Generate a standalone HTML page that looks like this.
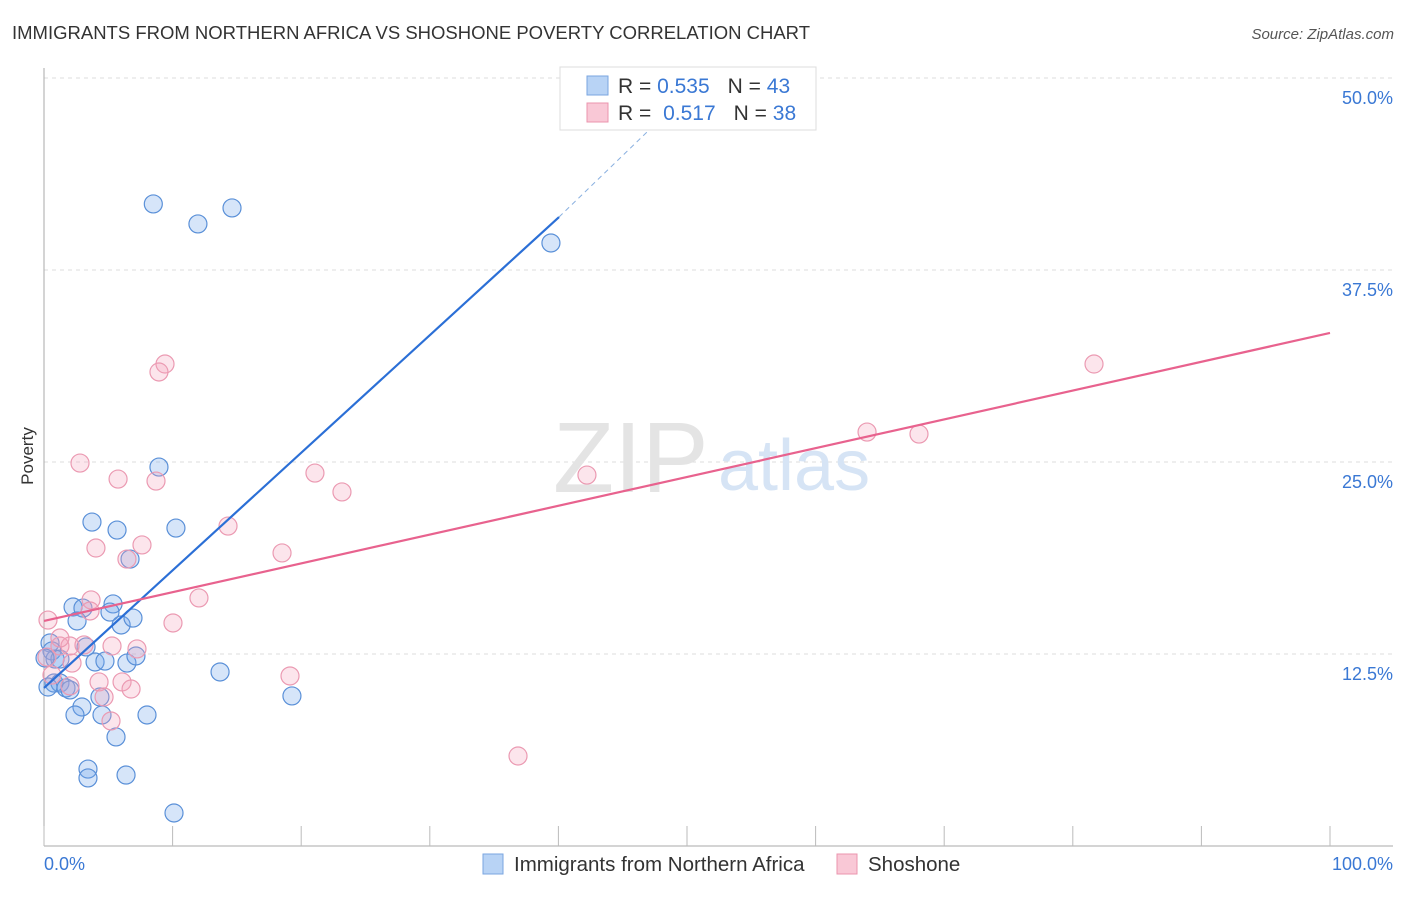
<!DOCTYPE html>
<html><head><meta charset="utf-8"><style>
body{margin:0;background:#fff;font-family:"Liberation Sans",sans-serif;}
svg text{font-family:"Liberation Sans",sans-serif;}
</style></head><body>
<svg width="1406" height="892" xmlns="http://www.w3.org/2000/svg" id="chart">
<text x="12" y="39" font-size="18.5" fill="#333">IMMIGRANTS FROM NORTHERN AFRICA VS SHOSHONE POVERTY CORRELATION CHART</text>
<text x="1394" y="39" font-size="15" fill="#555" font-style="italic" text-anchor="end">Source: ZipAtlas.com</text>
<g id="grid"></g>
<text x="553" y="492" font-size="100" fill="#e4e4e4" font-family="Liberation Serif">ZIP</text>
<text x="718" y="490" font-size="72" fill="#d6e4f5">atlas</text>
<line x1="44" y1="68" x2="44" y2="846" stroke="#aaa"/>
<line x1="44" y1="846" x2="1393" y2="846" stroke="#aaa"/>
<g id="ticks"></g>
<text transform="translate(33,456) rotate(-90)" font-size="17" fill="#333" text-anchor="middle">Poverty</text>
<text x="44" y="870" font-size="18" fill="#3a78d4">0.0%</text>
<text x="1393" y="870" font-size="18" fill="#3a78d4" text-anchor="end">100.0%</text>
<g id="pts"></g>
<g id="lines"></g>
<g>
<rect x="560" y="67" width="256" height="63" fill="#fff" stroke="#ddd"/>
<rect x="587" y="76" width="21" height="19" fill="#b8d3f5" stroke="#7aa6e0"/>
<rect x="587" y="103" width="21" height="19" fill="#f9c8d6" stroke="#eb94ae"/>
<text x="618" y="93" font-size="21" fill="#333">R = <tspan fill="#3a78d4">0.535</tspan><tspan dx="18">N = </tspan><tspan fill="#3a78d4">43</tspan></text>
<text x="618" y="120" font-size="21" fill="#333">R = <tspan fill="#3a78d4" dx="6">0.517</tspan><tspan dx="18">N = </tspan><tspan fill="#3a78d4">38</tspan></text>
</g>
<g>
<rect x="483" y="854" width="20" height="20" fill="#b8d3f5" stroke="#7aa6e0"/>
<text x="514" y="871" font-size="20.5" fill="#333">Immigrants from Northern Africa</text>
<rect x="837" y="854" width="20" height="20" fill="#f9c8d6" stroke="#eb94ae"/>
<text x="868" y="871" font-size="20.5" fill="#333">Shoshone</text>
</g>
</svg>
<script>
const yTicks=[12.5,25,37.5,50];
const yTickLabels=["12.5%","25.0%","37.5%","50.0%"];
const xTicks=[0,10,20,30,40,50,60,70,80,90,100];
const blueX=[8.5,11.97,14.62,39.42,8.94,3.73,5.68,10.26,6.69,2.26,3.03,5.37,5.13,2.57,6,6.92,3.27,0.47,0.62,0.86,1.24,3.97,4.74,6.45,7.15,13.69,0.78,1.24,1.71,2.02,4.35,19.28,2.95,2.41,4.51,8.01,5.6,3.42,3.42,6.38,10.11,0.08,0.31];
const blueY=[41.8,40.5,41.54,39.26,24.67,21.09,20.57,20.7,18.68,15.56,15.49,15.76,15.23,14.65,14.39,14.84,12.96,13.22,12.7,12.17,12.17,11.98,12.04,11.91,12.37,11.33,10.61,10.61,10.29,10.16,9.7,9.77,9.05,8.53,8.53,8.53,7.1,5.01,4.43,4.62,2.15,12.24,10.35];
const pinkX=[0.31,2.8,5.76,8.71,9.41,8.94,4.04,6.45,7.62,14.31,21.07,23.17,18.51,42.22,81.65,64.0,68.04,12.05,10.03,3.66,3.58,1.24,2.02,5.29,7.23,2.18,0.62,4.28,6.07,6.77,4.67,5.21,19.13,36.86,2.02,1.24,0.23,3.11];
const pinkY=[14.71,24.93,23.89,23.76,31.38,30.86,19.4,18.68,19.6,20.83,24.28,23.05,19.08,24.15,31.38,26.95,26.82,16.15,14.52,16.02,15.3,13.02,13.02,13.02,12.83,11.91,11.13,10.68,10.68,10.22,9.7,8.14,11.07,5.86,10.42,13.54,12.3,13.09];
const blueLine=[0,10.29,40.05,40.95,47.9,47.3];
const pinkLine=[0,14.65,100,33.4];
const NS='http://www.w3.org/2000/svg';
const X=v=>44+v*12.86, Y=v=>846-v*15.36;
function mk(tag,attrs,parent){const e=document.createElementNS(NS,tag);for(const k in attrs)e.setAttribute(k,attrs[k]);document.getElementById(parent).appendChild(e);return e;}
yTicks.forEach((t,i)=>{
 const l=mk('line',{x1:44,x2:1393,y1:Y(t),y2:Y(t),stroke:'#ddd','stroke-dasharray':'4,4'},'grid');
 
 
 const tx=mk('text',{x:1393,y:Y(t)+26,'font-size':18,fill:'#3a78d4','text-anchor':'end'},'grid');
 tx.textContent=yTickLabels[i];
 
 
});
xTicks.forEach(t=>{
 const l=mk('line',{x1:X(t),x2:X(t),y1:826,y2:846,stroke:'#bbb'},'ticks');
 
 
});
blueX.forEach((v,i)=>{
 const c=mk('circle',{cx:X(v),cy:Y(blueY[i]),r:9,fill:'rgba(120,170,235,0.3)',stroke:'#5a90d8','stroke-width':1.2},'pts');
 
 
});
pinkX.forEach((v,i)=>{
 const c=mk('circle',{cx:X(v),cy:Y(pinkY[i]),r:9,fill:'rgba(245,160,185,0.28)',stroke:'#eb9ab2','stroke-width':1.2},'pts');
 
 
});
const bl=mk('line',{x1:X(blueLine[0]),y1:Y(blueLine[1]),x2:X(blueLine[2]),y2:Y(blueLine[3]),stroke:'#2b6fd6','stroke-width':2.2},'lines');


const bd=mk('line',{x1:X(blueLine[2]),y1:Y(blueLine[3]),x2:X(blueLine[4]),y2:Y(blueLine[5]),stroke:'#8ab0e0','stroke-width':1,'stroke-dasharray':'5,4'},'lines');


const pl=mk('line',{x1:X(pinkLine[0]),y1:Y(pinkLine[1]),x2:X(pinkLine[2]),y2:Y(pinkLine[3]),stroke:'#e8628e','stroke-width':2.2},'lines');


</script>
</body></html>
